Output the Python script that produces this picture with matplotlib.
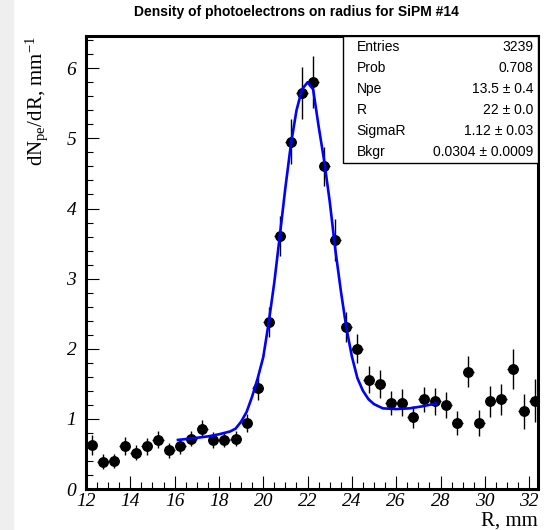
import numpy as np
import matplotlib.pyplot as plt
from matplotlib.patches import Rectangle

plt.rcParams['mathtext.fontset'] = 'custom'
plt.rcParams['mathtext.rm'] = 'Liberation Serif'
plt.rcParams['mathtext.it'] = 'Liberation Serif:italic'

# bin centres (0.5 mm bins) and measured density
r_centers = [12.25, 12.75, 13.25, 13.75, 14.25, 14.75, 15.25, 15.75, 16.25, 16.75,
             17.25, 17.75, 18.25, 18.75, 19.25, 19.75, 20.25, 20.75, 21.25, 21.75,
             22.25, 22.75, 23.25, 23.75, 24.25, 24.75, 25.25, 25.75, 26.25, 26.75,
             27.25, 27.75, 28.25, 28.75, 29.25, 29.75, 30.25, 30.75, 31.25, 31.75,
             32.25]
density = [0.63, 0.39, 0.40, 0.61, 0.52, 0.61, 0.70, 0.55, 0.61, 0.72,
           0.86, 0.70, 0.70, 0.72, 0.94, 1.44, 2.38, 3.61, 4.95, 5.65,
           5.81, 4.60, 3.55, 2.31, 2.00, 1.56, 1.50, 1.23, 1.23, 1.03,
           1.28, 1.25, 1.20, 0.94, 1.67, 0.94, 1.25, 1.28, 1.71, 1.11,
           1.26]
density_err = [0.14, 0.11, 0.10, 0.13, 0.11, 0.12, 0.12, 0.11, 0.11, 0.11,
               0.12, 0.11, 0.10, 0.10, 0.13, 0.17, 0.21, 0.29, 0.32, 0.37,
               0.37, 0.28, 0.30, 0.21, 0.21, 0.19, 0.20, 0.17, 0.19, 0.16,
               0.18, 0.19, 0.19, 0.17, 0.22, 0.18, 0.22, 0.22, 0.29, 0.25,
               0.31]
bin_half = 0.25

# fitted curve
fit_r = [16.15, 16.75, 17.5, 18.0, 18.5, 18.75, 19.0, 19.25, 19.5, 19.75,
         20.0, 20.25, 20.5, 20.75, 21.0, 21.25, 21.5, 21.75, 22.0, 22.25,
         22.5, 22.75, 23.0, 23.25, 23.5, 23.75, 24.0, 24.25, 24.5, 24.75,
         25.0, 25.4, 26.0, 26.6, 27.2, 27.8]
fit_val = [0.70, 0.72, 0.75, 0.78, 0.82, 0.86, 0.96, 1.10, 1.32, 1.58,
           1.88, 2.38, 2.95, 3.62, 4.30, 4.92, 5.40, 5.70, 5.80, 5.70,
           5.17, 4.68, 4.10, 3.42, 2.83, 2.30, 1.89, 1.58, 1.40, 1.28,
           1.21, 1.15, 1.14, 1.15, 1.18, 1.22]

stats_names = ['Entries', 'Prob', 'Npe', 'R', 'SigmaR', 'Bkgr']
stats_values = ['3239', '0.708', '13.5 \u00b1 0.4', '22 \u00b1 0.0',
                '1.12 \u00b1 0.03', '0.0304 \u00b1 0.0009']

fig = plt.figure(figsize=(5.45, 5.30), dpi=100)
fig.patches.append(Rectangle((0, 0), 13 / 545, 1, transform=fig.transFigure,
                             color='#efefef', zorder=-1))
ax = fig.add_axes([86 / 545, 1 - 489 / 530, 452 / 545, 453 / 530])

ax.errorbar(r_centers, density, yerr=density_err, xerr=bin_half, fmt='o',
            color='black', ms=6.8, elinewidth=1.0, capsize=0, zorder=3)
ax.plot(fit_r, fit_val, color='#0000ff', lw=1.9, zorder=4)

ax.set_xlim(12, 32.4)
ax.set_ylim(0, 6.46)
ax.set_xticks(np.arange(12, 33, 2))
ax.set_xticks(np.arange(12, 32.4, 0.5), minor=True)
ax.set_yticks(np.arange(0, 7, 1))
ax.set_yticks(np.arange(0, 6.46, 0.2), minor=True)
ax.tick_params(which='both', direction='in', top=False, right=False, width=0.8)
ax.tick_params(which='major', length=9.5)
ax.tick_params(which='minor', length=5)
ax.tick_params(axis='x', pad=3)
ax.tick_params(axis='y', pad=7)
for lab in ax.get_xticklabels() + ax.get_yticklabels():
    lab.set_fontfamily('Liberation Serif')
    lab.set_fontstyle('italic')
    lab.set_fontsize(14)
for sp in ax.spines.values():
    sp.set_linewidth(2.2)

ax.set_ylabel(r'dN$_{\mathrm{pe}}$/dR, mm$^{-1}$', family='Liberation Serif',
              fontsize=15, loc='top', labelpad=12)
ax.set_xlabel('R, mm', family='Liberation Serif', fontsize=15, loc='right',
              labelpad=1)

fig.text(296 / 545, 1 - 12 / 530, 'Density of photoelectrons on radius for SiPM #14',
         family='Liberation Sans', weight='bold', fontsize=10,
         ha='center', va='center')

# statistics box
box_x0, box_y0 = 0.569, 0.72
ax.add_patch(Rectangle((box_x0, box_y0), 1 - box_x0, 1 - box_y0,
                       transform=ax.transAxes, facecolor='white',
                       edgecolor='black', lw=1.0, zorder=5))
row_h = (1 - box_y0) / len(stats_names)
for i, (name, val) in enumerate(zip(stats_names, stats_values)):
    y = 1 - row_h * (i + 0.5)
    ax.text(box_x0 + 0.03, y, name, transform=ax.transAxes, family='Liberation Sans',
            fontsize=10, ha='left', va='center', zorder=6)
    ax.text(0.99, y, val, transform=ax.transAxes, family='Liberation Sans',
            fontsize=10, ha='right', va='center', zorder=6)

fig.savefig('out.png', dpi=100)
